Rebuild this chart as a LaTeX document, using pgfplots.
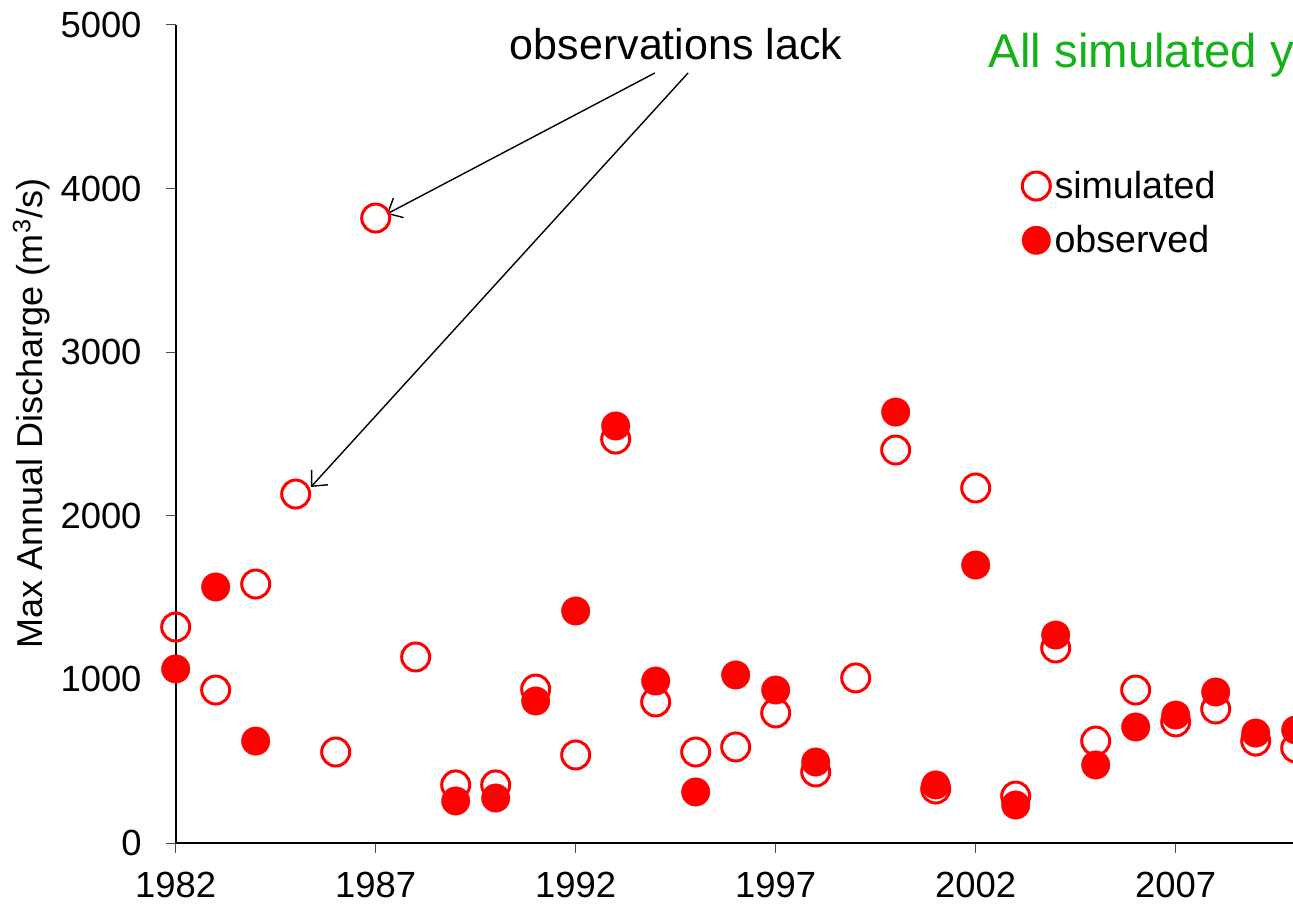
\documentclass[border=0pt]{standalone}
\usepackage{pgfplots}
\pgfplotsset{compat=1.18}
\usepackage{pgfplotstable}
\usepackage{fontspec}
\setmainfont{Liberation Sans}
\usetikzlibrary{arrows.meta}
\definecolor{ttl}{RGB}{20,178,24}
\definecolor{myred}{RGB}{255,0,0}
\pgfplotstableread{
year sim
1982 1320
1983 935
1984 1583
1985 2133
1986 556
1987 3820
1988 1137
1989 355
1990 355
1991 941
1992 538
1993 2469
1994 862
1995 556
1996 587
1997 795
1998 434
1999 1009
2000 2402
2001 330
2002 2170
2003 287
2004 1192
2005 623
2006 935
2007 740
2008 819
2009 623
2010 581
}\simtable
\pgfplotstableread{
year obs
1982 1064
1983 1565
1984 623
1989 257
1990 275
1991 868
1992 1418
1993 2549
1994 990
1995 312
1996 1027
1997 935
1998 495
2000 2634
2001 355
2002 1699
2003 232
2004 1271
2005 477
2006 709
2007 782
2008 923
2009 672
2010 691
}\obstable
\begin{document}
\begin{tikzpicture}
\path[use as bounding box] (0,0) rectangle (646.5pt,452pt);
\clip (0,0) rectangle (646.5pt,452pt);
\begin{axis}[
  at={(87.85pt,30.5pt)}, anchor=south west,
  scale only axis, width=580pt, height=409pt,
  xmin=1982, xmax=2011, ymin=0, ymax=5000,
  axis x line*=bottom, axis y line*=left,
  axis line style={line width=1pt, -},
  tick align=outside, major tick length=5pt,
  tick style={line width=0.5pt, color=black!70},
  xtick={1982,1987,...,2007}, ytick={0,1000,...,5000},
  minor tick num=0,
  /pgf/number format/.cd, 1000 sep={}, assume math mode=true, /pgfplots/.cd,
  tick label style={font=\fontsize{18.2}{21}\selectfont},
  yticklabel style={anchor=east, inner sep=0pt, xshift=-11.9pt},
  xticklabel style={anchor=north, inner sep=0pt, text depth=0pt, yshift=-9.5pt},
  ylabel={Max Annual Discharge  (m\textsuperscript{3}/s)},
  ylabel style={at={(axis description cs:-0.1144,0.525)}, anchor=base, inner sep=0pt, font=\fontsize{18}{21}\selectfont},
  clip=false,
  legend cell align=left,
  legend style={draw=none, fill=none, inner sep=0pt, outer sep=0pt,
    at={(axis cs:2003.16,4108)}, anchor=north west,
    font=\fontsize{18.8}{22}\selectfont, row sep=12pt, column sep=2pt,
    nodes={inner sep=0pt}},
  legend image code/.code={\draw[#1] plot coordinates {(0pt,0pt)};},
]
\addplot[only marks, mark=o, mark size=7pt, mark options={line width=1.5pt, draw=myred}] table[x=year, y=sim] {\simtable};
\addlegendentry{simulated}
\addplot[only marks, mark=*, mark size=7.1pt, mark options={line width=0.2pt, draw=myred, fill=myred}] table[x=year, y=obs] {\obstable};
\addlegendentry{observed}

\node[anchor=base, inner sep=0pt, font=\fontsize{21.5}{25}\selectfont] at (axis cs:1994.51,4792) {observations lack};
\draw[line width=0.7pt, -{Straight Barb[length=6pt,width=11pt]}] (axis cs:1993.98,4707) -- (axis cs:1987.28,3845);
\draw[line width=0.7pt, -{Straight Barb[length=6pt,width=11pt]}] (axis cs:1994.81,4707) -- (axis cs:1985.38,2176);
\node[anchor=base west, inner sep=0pt, text=ttl, font=\fontsize{23.7}{28}\selectfont] at (axis cs:2002.31,4743) {All simulated years};
\end{axis}
\end{tikzpicture}
\end{document}
